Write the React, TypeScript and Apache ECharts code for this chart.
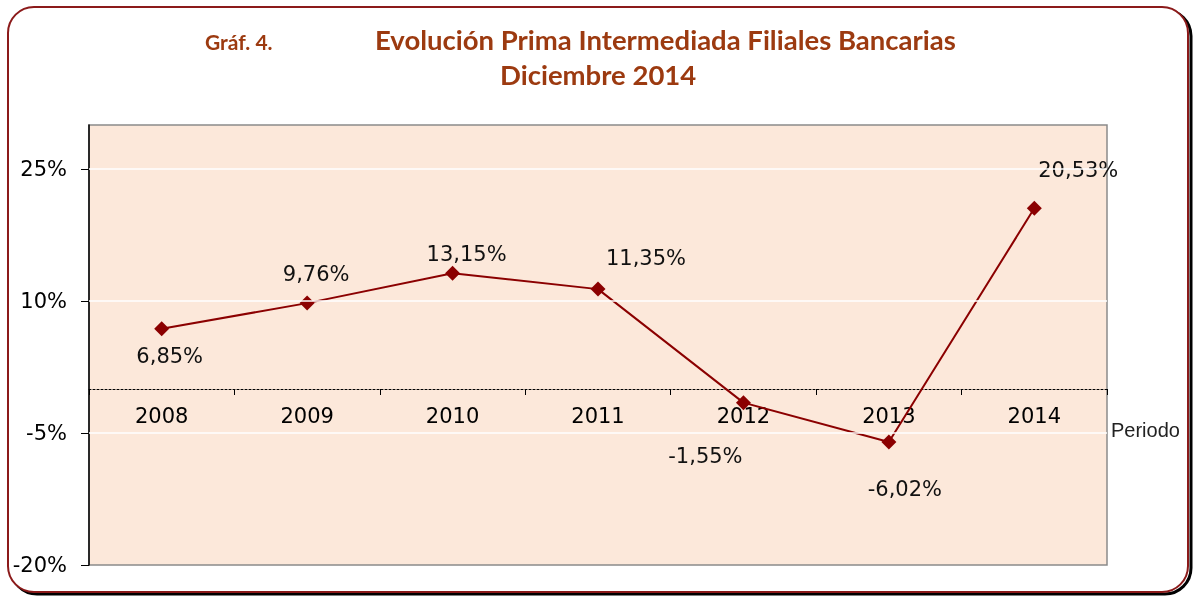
import React, { useEffect, useRef } from "react";
import * as echarts from "echarts";

const years = ["2008", "2009", "2010", "2011", "2012", "2013", "2014"];
const values = [6.85, 9.76, 13.15, 11.35, -1.55, -6.02, 20.53];
const labelOffsets: number[][] = [
  [8, 27],
  [9, -29],
  [14, -19],
  [48, -31],
  [-38, 53],
  [16, 47],
  [44, -38],
];
const yTicks = [-20, -5, 10, 25];
const gridLines = [25, 10, -5];

const fmt = (v: number) => v.toFixed(2).replace(".", ",") + "%";
const numFont = "DejaVu Sans";

export default function App() {
  const ref = useRef<HTMLDivElement>(null);
  useEffect(() => {
    if (!ref.current) return;
    const chart = echarts.init(ref.current, null, { renderer: "svg" });
    const titleColor = "#9C3A10";
    chart.setOption({
      animation: false,
      textStyle: { fontFamily: numFont },
      graphic: [
        {
          type: "rect",
          z: -20,
          shape: { x: 11, y: 10, width: 1180, height: 584, r: 26 },
          style: { fill: "none", stroke: "#000", lineWidth: 3 },
        },
        {
          type: "rect",
          z: -10,
          shape: { x: 8, y: 7, width: 1180, height: 585, r: 26 },
          style: { fill: "#fff", stroke: "#8B1A1A", lineWidth: 2 },
        },
        {
          type: "text",
          left: 205,
          top: 31,
          style: {
            text: "Gráf. 4.",
            fill: titleColor,
            font: "bold 21px Lato",
          },
        },
        {
          type: "text",
          left: 375,
          top: 25,
          style: {
            text: "Evolución Prima Intermediada Filiales Bancarias",
            fill: titleColor,
            font: "bold 27.5px Lato",
          },
        },
        {
          type: "text",
          left: 500,
          top: 60,
          style: {
            text: "Diciembre 2014",
            fill: titleColor,
            font: "bold 27.5px Lato",
          },
        },
        {
          type: "text",
          left: 1111,
          top: 420,
          style: {
            text: "Periodo",
            fill: "#222",
            font: "20px 'Liberation Sans'",
          },
        },
      ],
      grid: {
        left: 89,
        top: 125,
        width: 1018,
        height: 440,
        show: true,
        backgroundColor: "#FCE8DA",
        borderColor: "#8a8a8a",
        borderWidth: 1.5,
      },
      xAxis: {
        type: "category",
        data: years,
        boundaryGap: true,
        offset: -176,
        axisLine: {
          onZero: false,
          lineStyle: { color: "#000", width: 1, type: [2, 2] },
        },
        axisTick: {
          show: true,
          interval: 0,
          length: 6,
          lineStyle: { color: "#000" },
        },
        axisLabel: {
          fontSize: 21,
          color: "#000",
          margin: 16,
          fontFamily: numFont,
        },
      },
      yAxis: {
        type: "value",
        min: -20,
        max: 30,
        axisLine: { show: true, onZero: false, lineStyle: { color: "#000", width: 1.5 } },
        axisTick: {
          show: true,
          customValues: yTicks,
          length: 8,
          lineStyle: { color: "#000" },
        },
        axisLabel: {
          customValues: yTicks,
          formatter: (v: number) => v + "%",
          fontSize: 21,
          color: "#000",
          margin: 22,
          fontFamily: numFont,
        },
        splitLine: { show: false },
      },
      series: [
        {
          type: "line",
          z: 1,
          data: [],
          silent: true,
          markLine: {
            silent: true,
            symbol: "none",
            label: { show: false },
            lineStyle: { color: "#ffffff", width: 1.5, type: "solid" },
            data: gridLines.map((v) => ({ yAxis: v })),
          },
        },
        {
          type: "line",
          z: 3,
          data: values.map((v, i) => ({
            value: v,
            label: {
              show: true,
              position: "inside",
              offset: labelOffsets[i],
              formatter: fmt(v),
              fontSize: 21,
              color: "#111",
              fontFamily: numFont,
            },
          })),
          symbol: "diamond",
          symbolSize: 15,
          itemStyle: { color: "#8B0000" },
          lineStyle: { color: "#8B0000", width: 2 },
        },
      ],
    });
    return () => chart.dispose();
  }, []);
  return (
    <div
      ref={ref}
      style={{ position: "fixed", left: 0, top: 0, width: 1200, height: 596 }}
    />
  );
}
